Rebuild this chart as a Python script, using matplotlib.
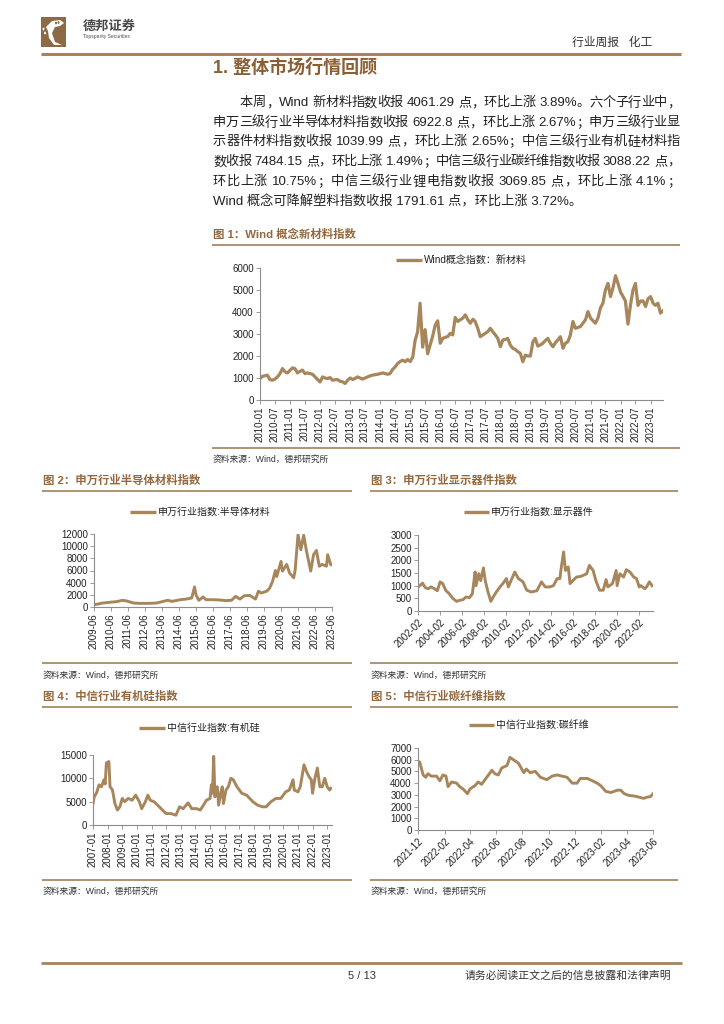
import re
import numpy as np
import pandas as pd
import matplotlib
matplotlib.use("Agg")
import matplotlib.pyplot as plt
from matplotlib.lines import Line2D
from matplotlib.patches import Rectangle, Polygon, Circle

plt.rcParams['font.family'] = ['Liberation Sans', 'Noto Sans CJK SC', 'DejaVu Sans']

# ---------------- data ----------------
# Chart 1: Wind 概念指数 新材料 (monthly from 2010-01)
c1_start = '2010-01-01'
c1_values = [975, 1080, 1100, 1130, 930, 900, 950, 1050, 1200, 1430, 1280, 1230,
             1350, 1460, 1430, 1230, 1300, 1360, 1200, 1230, 1200, 1170, 1050, 930,
             820, 1050, 1000, 975, 1020, 900, 920, 930, 850, 830, 750, 900,
             1000, 930, 980, 1050, 1000, 950, 1000, 1050, 1100, 1130, 1150, 1170,
             1200, 1230, 1200, 1170, 1200, 1390, 1500, 1660, 1750, 1810, 1740, 1840,
             1750, 1950, 2700, 3100, 4400, 2400, 3200, 2100, 2500, 2900, 3400, 3600,
             2580, 2800, 2850, 2880, 3030, 2960, 3750, 3570, 3650, 3720, 3870, 3650,
             3490, 3670, 3570, 3260, 2880, 2950, 3030, 3110, 3260, 3100, 2960, 2800,
             2420, 2730, 2750, 2800, 2500, 2350, 2300, 2200, 2120, 1740, 2040, 2000,
             2000, 2650, 2800, 2450, 2500, 2580, 2700, 2800, 2580, 2420, 2600, 2730,
             2880, 2350, 2580, 2650, 2960, 3570, 3260, 3300, 3340, 3490, 3650, 4020,
             3720, 3600, 3490, 3720, 4180, 4400, 5000, 5300, 4700, 5100, 5650, 5300,
             4900, 4700, 4500, 3450, 4300, 5000, 5300, 4300, 4500, 4500, 4250, 4600,
             4700, 4400, 4300, 4400, 3950, 4060]
c1_ticks = ['2010-01', '2010-07', '2011-01', '2011-07', '2012-01', '2012-07', '2013-01',
            '2013-07', '2014-01', '2014-07', '2015-01', '2015-07', '2016-01', '2016-07',
            '2017-01', '2017-07', '2018-01', '2018-07', '2019-01', '2019-07', '2020-01',
            '2020-07', '2021-01', '2021-07', '2022-01', '2022-07', '2023-01']
c1_yticks = [0, 1000, 2000, 3000, 4000, 5000, 6000]

# Chart 2: 申万行业指数 半导体材料
c2_dates = ['2009-06', '2009-09', '2009-12', '2010-05', '2010-10', '2011-02', '2011-05', '2011-10',
            '2012-02', '2012-09', '2013-02', '2013-07', '2013-10', '2014-01', '2014-07', '2014-11',
            '2015-03', '2015-05', '2015-06', '2015-08', '2015-11', '2016-01', '2016-06', '2016-11',
            '2017-03', '2017-07', '2017-10', '2018-01', '2018-04', '2018-08', '2018-12', '2019-02',
            '2019-04', '2019-08', '2019-10', '2019-12', '2020-02', '2020-03', '2020-06', '2020-07',
            '2020-10', '2020-12', '2021-03', '2021-04', '2021-06', '2021-08', '2021-10', '2021-12',
            '2022-03', '2022-05', '2022-07', '2022-09', '2022-11', '2023-02', '2023-03', '2023-05',
            '2023-06']
c2_values = [380, 500, 650, 770, 880, 1100, 1000, 650, 600, 600, 650, 930, 1100, 930, 1200, 1300,
             1480, 3300, 2000, 1100, 1650, 1200, 1200, 1150, 1050, 1100, 1750, 1300, 1850, 1900,
             1300, 2600, 2300, 2600, 3100, 4200, 6000, 5000, 7500, 5900, 7000, 5600, 4800, 6100,
             11900, 9400, 11800, 9150, 5900, 8600, 9300, 6700, 7000, 6700, 8600, 7000, 6900]
c2_ticks = ['2009-06', '2010-06', '2011-06', '2012-06', '2013-06', '2014-06', '2015-06', '2016-06',
            '2017-06', '2018-06', '2019-06', '2020-06', '2021-06', '2022-06', '2023-06']
c2_yticks = [0, 2000, 4000, 6000, 8000, 10000, 12000]

# Chart 3: 申万行业指数 显示器件
c3_dates = ['2002-02', '2002-04', '2002-07', '2002-10', '2003-01', '2003-04', '2003-08', '2003-11',
            '2004-02', '2004-05', '2004-08', '2004-12', '2005-04', '2005-08', '2005-11', '2006-03',
            '2006-06', '2006-10', '2007-01', '2007-04', '2007-05', '2007-08', '2007-10', '2008-01',
            '2008-03', '2008-06', '2008-09', '2008-12', '2009-03', '2009-07', '2009-10', '2010-02',
            '2010-04', '2010-07', '2010-11', '2011-03', '2011-08', '2011-12', '2012-05', '2012-11',
            '2013-04', '2013-08', '2014-01', '2014-05', '2014-09', '2014-12', '2015-01', '2015-04',
            '2015-06', '2015-09', '2015-11', '2016-02', '2016-06', '2016-11', '2017-05', '2017-08',
            '2017-12', '2018-03', '2018-07', '2018-11', '2019-02', '2019-04', '2019-09', '2020-01',
            '2020-02', '2020-05', '2020-09', '2020-12', '2021-04', '2021-08', '2021-11', '2022-02',
            '2022-04', '2022-08', '2022-10', '2023-01', '2023-04']
c3_values = [950, 1000, 1100, 920, 880, 950, 880, 800, 1150, 1080, 820, 680, 490, 380, 420, 450,
             550, 530, 680, 1540, 1000, 1470, 1200, 1700, 1200, 750, 380, 580, 750, 950, 1080, 1280,
             950, 1200, 1540, 1280, 1150, 820, 750, 800, 1150, 950, 950, 1000, 1280, 1280, 1600, 2330,
             1600, 1740, 1080, 1200, 1340, 1370, 1470, 1800, 1600, 1200, 820, 820, 1240, 950, 1080,
             1600, 1000, 1470, 1340, 1630, 1540, 1340, 1280, 950, 1000, 880, 950, 1150, 1000]
c3_ticks = ['2002-02', '2004-02', '2006-02', '2008-02', '2010-02', '2012-02', '2014-02',
            '2016-02', '2018-02', '2020-02', '2022-02']
c3_yticks = [0, 500, 1000, 1500, 2000, 2500, 3000]

# Chart 4: 中信行业指数 有机硅
c4_dates = ['2007-01', '2007-02', '2007-04', '2007-06', '2007-08', '2007-10', '2007-11', '2007-12',
            '2008-02', '2008-03', '2008-05', '2008-07', '2008-09', '2008-11', '2009-01', '2009-03',
            '2009-06', '2009-09', '2009-12', '2010-03', '2010-05', '2010-08', '2010-10', '2010-12',
            '2011-03', '2011-06', '2011-10', '2012-01', '2012-05', '2012-09', '2012-12', '2013-03',
            '2013-07', '2013-10', '2014-02', '2014-05', '2014-07', '2014-10', '2015-01', '2015-02',
            '2015-03', '2015-04', '2015-05', '2015-07', '2015-08', '2015-10', '2015-11', '2015-12',
            '2016-02', '2016-04', '2016-06', '2016-08', '2016-11', '2017-03', '2017-07', '2017-12',
            '2018-04', '2018-08', '2018-11', '2019-03', '2019-07', '2019-11', '2020-03', '2020-06',
            '2020-09', '2020-10', '2021-01', '2021-03', '2021-06', '2021-08', '2021-10', '2021-12',
            '2022-01', '2022-03', '2022-05', '2022-07', '2022-09', '2022-11', '2023-01', '2023-03',
            '2023-04']
c4_values = [4600, 6050, 6900, 8600, 8200, 9700, 8800, 13300, 13600, 8200, 7500, 4600, 3200, 3900,
             5700, 5000, 5700, 5300, 6400, 5000, 3500, 5000, 6400, 5300, 5000, 4250, 3200, 2450,
             2450, 2100, 3900, 3500, 4750, 3500, 3500, 3200, 4000, 5300, 5700, 8600, 6800, 14700,
             6050, 8200, 4250, 7100, 8200, 4600, 7500, 8200, 10000, 9700, 8200, 6800, 6400, 5000,
             4250, 3900, 3900, 5000, 5700, 5700, 7100, 7500, 9700, 7500, 7100, 8200, 12900, 11500,
             10400, 9700, 6800, 10000, 12200, 8200, 8200, 10000, 8200, 7500, 7850]
c4_ticks = ['2007-01', '2008-01', '2009-01', '2010-01', '2011-01', '2012-01', '2013-01', '2014-01',
            '2015-01', '2016-01', '2017-01', '2018-01', '2019-01', '2020-01', '2021-01', '2022-01',
            '2023-01']
c4_yticks = [0, 5000, 10000, 15000]

# Chart 5: 中信行业指数 碳纤维
c5_dates = ['2021-12-01', '2021-12-05', '2021-12-13', '2021-12-19', '2021-12-24', '2022-01-01',
            '2022-01-13', '2022-01-21', '2022-01-28', '2022-02-04', '2022-02-09', '2022-02-17',
            '2022-03-01', '2022-03-08', '2022-03-16', '2022-03-26', '2022-04-01', '2022-04-13',
            '2022-04-20', '2022-04-28', '2022-05-10', '2022-05-22', '2022-05-29', '2022-06-06',
            '2022-06-14', '2022-06-26', '2022-07-03', '2022-07-15', '2022-07-23', '2022-08-04',
            '2022-08-10', '2022-08-19', '2022-08-31', '2022-09-12', '2022-09-27', '2022-10-09',
            '2022-10-21', '2022-11-01', '2022-11-13', '2022-11-25', '2022-12-06', '2022-12-14',
            '2022-12-30', '2023-01-11', '2023-01-22', '2023-01-30', '2023-02-11', '2023-02-23',
            '2023-03-10', '2023-03-18', '2023-03-26', '2023-04-06', '2023-04-18', '2023-04-30',
            '2023-05-10', '2023-05-18', '2023-05-26', '2023-06-01']
c5_values = [5850, 5800, 4700, 4500, 4800, 4600, 4600, 4200, 4700, 4600, 3700, 4100, 4000, 3700,
             3500, 3100, 3500, 3800, 4100, 3900, 4500, 5100, 4800, 4700, 5300, 5500, 6200, 5900,
             5700, 4900, 5200, 4900, 5000, 4500, 4300, 4600, 4700, 4600, 4500, 4000, 4000, 4400,
             4400, 4200, 4000, 3800, 3300, 3200, 3400, 3400, 3100, 2950, 2900, 2800, 2700, 2800,
             2850, 3100]
c5_ticks = ['2021-12', '2022-02', '2022-04', '2022-06', '2022-08', '2022-10', '2022-12',
            '2023-02', '2023-04', '2023-06']
c5_yticks = [0, 1000, 2000, 3000, 4000, 5000, 6000, 7000]

body_lines = [
    "本周，Wind 新材料指数收报 4061.29 点，环比上涨 3.89%。六个子行业中，",
    "申万三级行业半导体材料指数收报 6922.8 点，环比上涨 2.67%；申万三级行业显",
    "示器件材料指数收报 1039.99 点，环比上涨 2.65%；中信三级行业有机硅材料指",
    "数收报 7484.15 点，环比上涨 1.49%；中信三级行业碳纤维指数收报 3088.22 点，",
    "环比上涨 10.75%；中信三级行业锂电指数收报 3069.85 点，环比上涨 4.1%；",
    "Wind 概念可降解塑料指数收报 1791.61 点，环比上涨 3.72%。",
]

# ---------------- styling ----------------
W, H = 724, 1024
LINE = '#A8865C'
RULE = '#A88A66'
CAP = '#94683F'
SPINE = '#8C8C8C'
TXT = '#222222'

fig = plt.figure(figsize=(7.24, 10.24), dpi=100)


def fx(x):
    return x / W


def fy(y):
    return 1 - y / H


def ftext(x, y, s, **kw):
    kw.setdefault('va', 'center')
    return fig.text(fx(x), fy(y), s, **kw)


def hline(x0, x1, y, color=RULE, lw=1.2):
    fig.add_artist(Line2D([fx(x0), fx(x1)], [fy(y), fy(y)], color=color, lw=lw,
                          transform=fig.transFigure, solid_capstyle='butt'))


# ---------------- header ----------------
fig.add_artist(Rectangle((fx(41), fy(47)), fx(25), 30 / H, transform=fig.transFigure,
                         facecolor='#8B6A45', edgecolor='none'))
logo_pts = [(46, 27), (52, 21), (60, 20), (64, 23), (60, 26), (55, 27), (52, 33),
            (55, 42), (62, 45), (54, 45), (49, 38), (48, 31)]
fig.add_artist(Polygon([(fx(a), fy(b)) for a, b in logo_pts], closed=True,
                       transform=fig.transFigure, facecolor='white', edgecolor='none'))
for cx, cy in [(43.5, 29), (45, 33), (56, 23), (58.5, 22.5)]:
    fig.add_artist(Circle((fx(cx), fy(cy)), 1.0 / W, transform=fig.transFigure,
                          facecolor='#8B6A45' if cx > 50 else 'white', edgecolor='none'))
ftext(83, 27, "德邦证券", fontsize=9.5, fontweight='bold', color='#4a4a4a')
ftext(83, 36.5, "Topsperity Securities", fontsize=3.6, color='#4a4a4a')
ftext(652, 43, "行业周报   化工", fontsize=8.5, color='#333333', ha='right')
hline(41, 681, 54, color='#A6835D', lw=2.2)

# ---------------- section title & body ----------------
ftext(213, 68, "1. 整体市场行情回顾", fontsize=13, fontweight='bold', color='#8C5E34')

renderer = fig.canvas.get_renderer()
body_y = [103, 123, 142, 162, 182, 202]
BODY_FS = 9.5
SPACE_W = 4.0
for i, (s, y) in enumerate(zip(body_lines, body_y)):
    x0 = 240 if i == 0 else 213
    if i == len(body_lines) - 1:
        ftext(x0, y, s, fontsize=BODY_FS, color=TXT)
        continue
    parts = re.findall(r'(\s*)([A-Za-z0-9.%]+|[^\sA-Za-z0-9.%])', s)
    arts = [ftext(0, y, t, fontsize=BODY_FS, color=TXT) for _, t in parts]
    widths = [a.get_window_extent(renderer).width * W / fig.bbox.width for a in arts]
    spaces = [SPACE_W if (sp and k > 0) else 0.0 for k, (sp, _) in enumerate(parts)]
    gap = (680 - x0 - sum(widths) - sum(spaces)) / (len(parts) - 1)
    xx = x0
    for a, w, spw in zip(arts, widths, spaces):
        xx += spw
        a.set_x(fx(xx))
        xx += w + gap


# ---------------- charts ----------------
def chart(box, dates, values, ylim, yticks, ticks, xlim, rot, lw=2.1):
    l, t, r, b = box
    ax = fig.add_axes([fx(l), fy(b), (r - l) / W, (b - t) / H])
    ax.plot(pd.to_datetime(dates), values, color=LINE, lw=lw, solid_joinstyle='round')
    ax.set_ylim(*ylim)
    ax.set_xlim(pd.Timestamp(xlim[0]), pd.Timestamp(xlim[1]))
    ax.set_yticks(yticks)
    ax.set_yticklabels([str(v) for v in yticks])
    ax.set_xticks(pd.to_datetime(ticks))
    if rot == 90:
        ax.set_xticklabels(ticks, rotation=90, ha='center', va='top')
    else:
        ax.set_xticklabels(ticks, rotation=45, ha='right', va='top', rotation_mode='anchor')
    for sp in ['top', 'right']:
        ax.spines[sp].set_visible(False)
    for sp in ['left', 'bottom']:
        ax.spines[sp].set_color(SPINE)
        ax.spines[sp].set_linewidth(0.8)
    ax.tick_params(axis='both', length=3, width=0.6, color=SPINE, labelsize=7,
                   labelcolor=TXT, pad=1.5)
    ax.patch.set_alpha(0)
    return ax


def legend(x0, x1, y, label):
    fig.add_artist(Line2D([fx(x0), fx(x1)], [fy(y), fy(y)], color=LINE, lw=2.4,
                          transform=fig.transFigure, solid_capstyle='butt'))
    ftext(x1 + 2, y, label, fontsize=7.2, color=TXT)


def caption(x0, x1, y, s):
    ftext(x0 + 1, y, s, fontsize=8.2, fontweight='bold', color=CAP)
    hline(x0, x1, y + 11, lw=1.3)


def source(x0, x1, y_rule, y_txt):
    hline(x0, x1, y_rule, lw=1.3)
    ftext(x0 + 1, y_txt, "资料来源：Wind，德邦研究所", fontsize=6.3, color='#333333')


# Chart 1
caption(212, 680, 234, "图 1：Wind 概念新材料指数")
legend(396, 422, 260, "Wind概念指数：新材料")
c1_dates = pd.date_range(c1_start, periods=len(c1_values), freq='MS')
chart((260, 268, 663, 400), c1_dates, c1_values, (0, 6000), c1_yticks, c1_ticks,
      ('2010-01-01', '2023-06-01'), 90, lw=2.3)
source(212, 680, 448, 459)

# Chart 2
caption(42, 352, 480, "图 2：申万行业半导体材料指数")
legend(130, 156, 512, "申万行业指数:半导体材料")
chart((94, 534, 332, 607), c2_dates, c2_values, (0, 12000), c2_yticks, c2_ticks,
      ('2009-06-01', '2023-06-01'), 90)
source(42, 352, 663, 675)

# Chart 3
caption(370, 678, 480, "图 3：申万行业显示器件指数")
legend(464, 489, 512, "申万行业指数:显示器件")
chart((418, 535, 653, 611), c3_dates, c3_values, (0, 3000), c3_yticks, c3_ticks,
      ('2002-02-01', '2023-05-01'), 45)
source(370, 678, 663, 675)

# Chart 4
caption(42, 352, 696, "图 4：中信行业有机硅指数")
legend(139, 165, 728, "中信行业指数:有机硅")
chart((93, 755, 332, 825), c4_dates, c4_values, (0, 15000), c4_yticks, c4_ticks,
      ('2007-01-01', '2023-05-01'), 90)
source(42, 352, 880, 891)

# Chart 5
caption(370, 678, 696, "图 5：中信行业碳纤维指数")
legend(469, 494, 725, "中信行业指数:碳纤维")
chart((418, 748, 653, 830), c5_dates, c5_values, (0, 7000), c5_yticks, c5_ticks,
      ('2021-12-01', '2023-06-01'), 45)
source(370, 678, 880, 891)

# ---------------- footer ----------------
hline(41, 682, 963, color='#A6835D', lw=2.0)
ftext(362, 976, "5 / 13", fontsize=8, color='#333333', ha='center')
ftext(465, 976, "请务必阅读正文之后的信息披露和法律声明", fontsize=7.8, color='#333333')

fig.savefig('out.png', dpi=100)
